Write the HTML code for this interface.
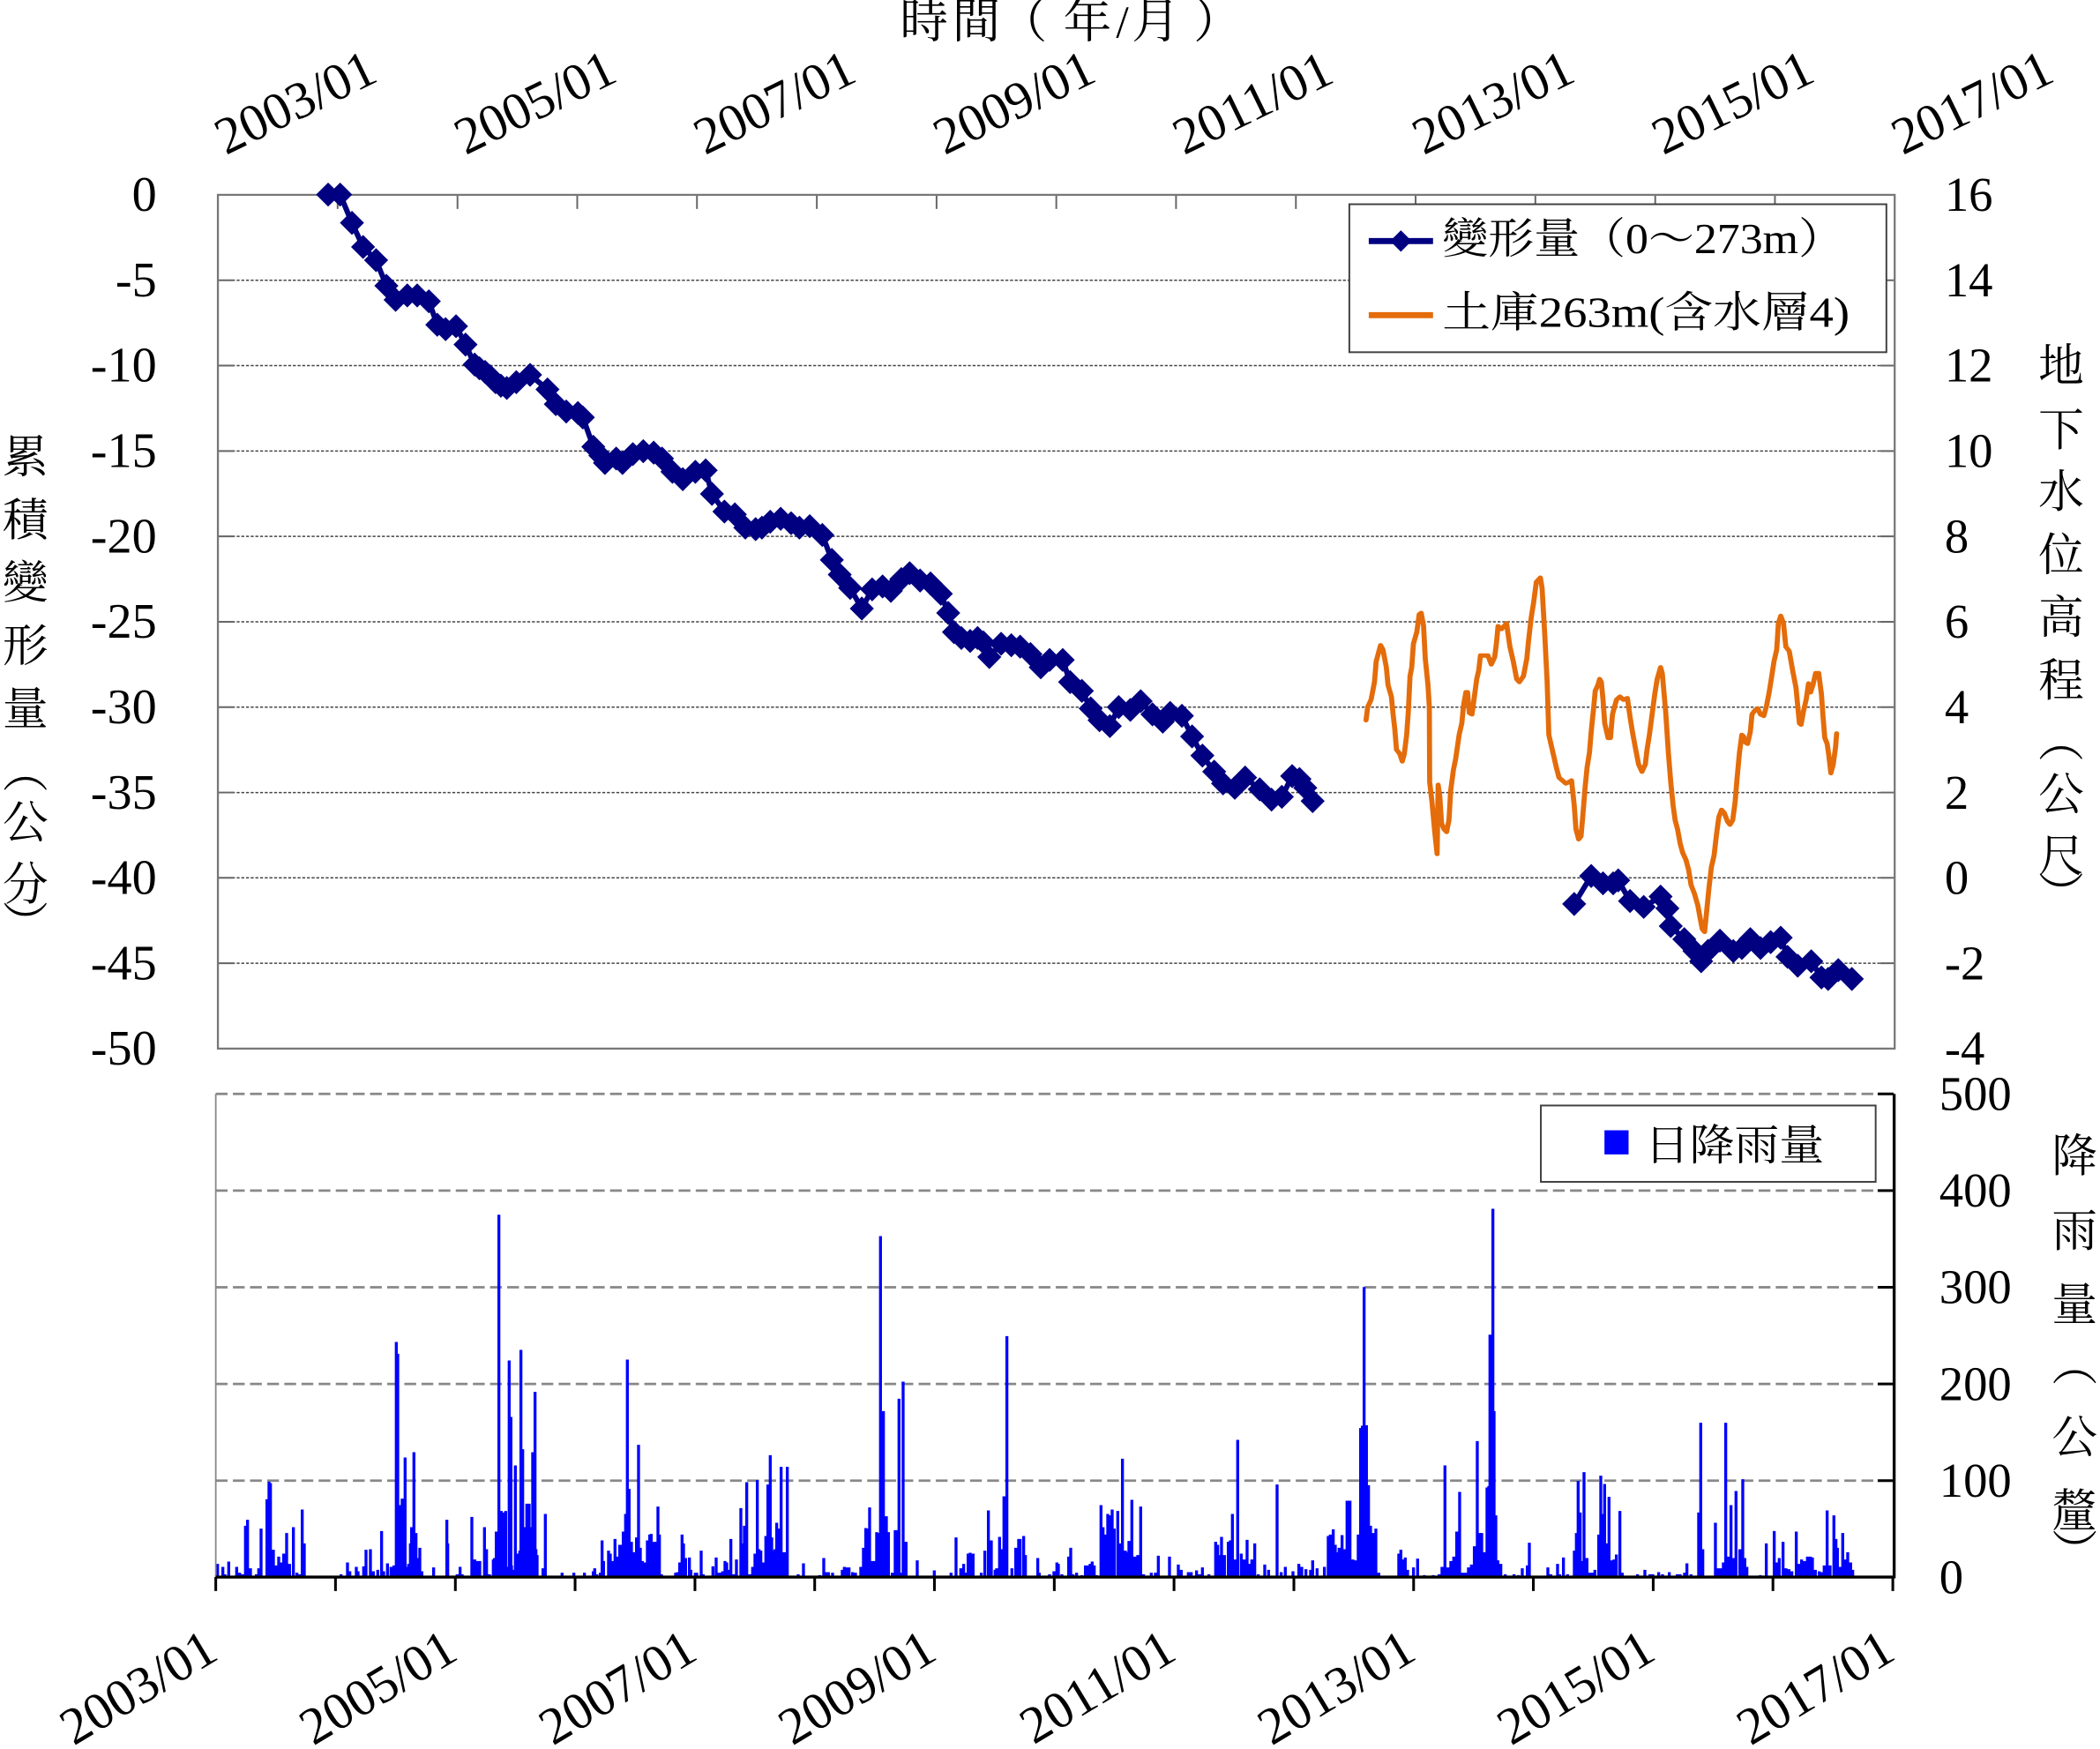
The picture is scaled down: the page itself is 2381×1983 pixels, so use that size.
<!DOCTYPE html>
<html><head><meta charset="utf-8"><style>
html,body{margin:0;padding:0;background:#fff;}
svg{display:block;}
text{font-family:"Liberation Serif","Noto Serif CJK SC","Noto Serif CJK TC","Noto Serif CJK JP","Noto Serif CJK","Noto Sans CJK TC",serif;fill:#000;}
</style></head><body>
<svg width="2381" height="1983" viewBox="0 0 1568 1306" preserveAspectRatio="none" xmlns="http://www.w3.org/2000/svg">
<defs>
<marker id="dm" markerWidth="20" markerHeight="20" refX="10" refY="10" markerUnits="userSpaceOnUse" overflow="visible"><path d="M10 1 L19 10 L10 19 L1 10Z" fill="#000080"/></marker>
</defs>
<rect width="1568" height="1306" fill="#fff"/>

<!-- title -->
<g font-size="36" text-anchor="middle">
<text x="690" y="28">時</text><text x="729" y="28">間</text><text x="764" y="28">（</text><text x="812" y="28">年</text><text x="838" y="28" font-size="34">/</text><text x="863" y="28">月</text><text x="909" y="28">）</text>
</g>

<!-- top x labels -->
<g font-size="39">
<text x="168.7" y="116" transform="rotate(-26 168.7 116)">2003/01</text>
<text x="347.6" y="116" transform="rotate(-26 347.6 116)">2005/01</text>
<text x="526.4" y="116" transform="rotate(-26 526.4 116)">2007/01</text>
<text x="705.3" y="116" transform="rotate(-26 705.3 116)">2009/01</text>
<text x="884.1" y="116" transform="rotate(-26 884.1 116)">2011/01</text>
<text x="1063" y="116" transform="rotate(-26 1063 116)">2013/01</text>
<text x="1241.9" y="116" transform="rotate(-26 1241.9 116)">2015/01</text>
<text x="1420.7" y="116" transform="rotate(-26 1420.7 116)">2017/01</text>
</g>

<!-- top chart gridlines -->
<g stroke="#444" stroke-width="1" stroke-dasharray="2.2 1.3">
<line x1="162.7" x2="1414.7" y1="209.3" y2="209.3"/>
<line x1="162.7" x2="1414.7" y1="273" y2="273"/>
<line x1="162.7" x2="1414.7" y1="336.8" y2="336.8"/>
<line x1="162.7" x2="1414.7" y1="400.5" y2="400.5"/>
<line x1="162.7" x2="1414.7" y1="464.3" y2="464.3"/>
<line x1="162.7" x2="1414.7" y1="528" y2="528"/>
<line x1="162.7" x2="1414.7" y1="591.8" y2="591.8"/>
<line x1="162.7" x2="1414.7" y1="655.5" y2="655.5"/>
<line x1="162.7" x2="1414.7" y1="719.3" y2="719.3"/>
</g>
<!-- top chart ticks -->
<g stroke="#666" stroke-width="1.3">
<path d="M252.1 145.5V156M341.6 145.5V156M431 145.5V156M520.4 145.5V156M609.9 145.5V156M699.3 145.5V156M788.7 145.5V156M878.1 145.5V156M967.6 145.5V156M1057 145.5V156M1146.4 145.5V156M1235.9 145.5V156M1325.3 145.5V156"/>
<path d="M162.7 209.3H175M162.7 273H175M162.7 336.8H175M162.7 400.5H175M162.7 464.3H175M162.7 528H175M162.7 591.8H175M162.7 655.5H175M162.7 719.3H175"/>
<path d="M1404 209.3H1414.7M1404 273H1414.7M1404 336.8H1414.7M1404 400.5H1414.7M1404 464.3H1414.7M1404 528H1414.7M1404 591.8H1414.7M1404 655.5H1414.7M1404 719.3H1414.7"/>
</g>
<rect x="162.7" y="145.5" width="1252" height="637.5" fill="none" stroke="#777" stroke-width="1.5"/>

<!-- left labels -->
<g font-size="37" text-anchor="end">
<text x="117" y="157.5">0</text><text x="117" y="221.3">-5</text><text x="117" y="285">-10</text><text x="117" y="348.8">-15</text><text x="117" y="412.5">-20</text><text x="117" y="476.3">-25</text><text x="117" y="540">-30</text><text x="117" y="603.8">-35</text><text x="117" y="667.5">-40</text><text x="117" y="731.3">-45</text><text x="117" y="795">-50</text>
</g>
<!-- right labels top -->
<g font-size="36">
<text x="1452" y="157.5">16</text><text x="1452" y="221.3">14</text><text x="1452" y="285">12</text><text x="1452" y="348.8">10</text><text x="1452" y="412.5">8</text><text x="1452" y="476.3">6</text><text x="1452" y="540">4</text><text x="1452" y="603.8">2</text><text x="1452" y="667.5">0</text><text x="1452" y="731.3">-2</text><text x="1452" y="795">-4</text>
</g>

<!-- left axis title -->
<g font-size="34" text-anchor="middle">
<text x="19" y="353">累</text><text x="19" y="400">積</text><text x="19" y="447">變</text><text x="19" y="494">形</text><text x="19" y="541">量</text>
<text x="19" y="588" transform="rotate(90 19 575)">（</text>
<text x="19" y="626">公</text><text x="19" y="672">分</text>
<text x="19" y="702" transform="rotate(90 19 689)">）</text>
</g>
<!-- right axis title top -->
<g font-size="34" text-anchor="middle">
<text x="1539" y="285">地</text><text x="1539" y="333">下</text><text x="1539" y="379">水</text><text x="1539" y="426">位</text><text x="1539" y="473">高</text><text x="1539" y="520">程</text>
<text x="1539" y="565" transform="rotate(90 1539 552)">（</text>
<text x="1539" y="605">公</text><text x="1539" y="651">尺</text>
<text x="1539" y="680" transform="rotate(90 1539 667)">）</text>
</g>

<!-- orange groundwater series -->
<g transform="translate(1001,408.3) scale(0.2528,0.2195)">
<polyline fill="none" stroke="#E46C0A" stroke-width="15" stroke-linejoin="round" stroke-linecap="round" points="75,590 80,545 90,520 100,460 105,390 118,335 125,350 135,410 140,470 150,510 155,570 160,620 165,690 175,705 182,730 188,705 195,640 200,560 205,440 210,410 215,330 225,290 232,230 238,225 245,270 250,380 258,470 262,545 263,800 270,870 278,970 285,1045 288,810 293,850 298,940 305,960 313,970 320,930 325,830 333,760 340,720 350,640 358,600 363,540 370,495 375,495 380,565 388,570 395,510 402,450 408,420 413,370 425,370 435,370 445,400 455,375 460,330 465,270 475,280 483,270 490,260 500,340 510,390 520,450 528,460 540,440 550,380 555,320 563,240 570,190 578,120 590,105 595,140 603,300 610,460 615,640 625,690 637,750 645,785 655,795 665,805 675,800 682,795 690,880 695,960 703,995 710,985 715,920 722,820 728,750 735,700 740,630 748,540 752,490 760,470 765,450 770,460 775,520 780,600 790,650 797,650 803,570 810,540 815,520 825,510 835,520 847,515 855,580 862,630 870,680 880,740 890,765 900,740 905,690 912,640 920,570 928,500 935,450 945,410 950,430 960,560 968,700 975,800 982,880 988,930 995,960 1003,1010 1010,1040 1020,1065 1028,1100 1035,1150 1045,1180 1055,1220 1063,1270 1068,1300 1075,1310 1082,1230 1088,1160 1095,1090 1103,1050 1110,980 1117,920 1125,895 1133,905 1143,935 1150,945 1158,930 1165,870 1170,800 1178,700 1185,640 1190,645 1195,665 1202,670 1210,630 1215,570 1225,555 1232,550 1240,570 1250,575 1258,540 1265,500 1272,450 1280,390 1288,350 1293,260 1300,235 1308,260 1315,340 1325,355 1335,420 1345,480 1350,540 1355,600 1360,605 1367,560 1375,520 1382,465 1388,495 1395,470 1403,430 1412,430 1420,500 1425,580 1430,650 1437,670 1442,710 1448,770 1455,740 1462,680 1465,635"/>
</g>

<!-- navy deformation series -->
<g fill="none" stroke="#000080" stroke-width="4" stroke-linejoin="round" marker-start="url(#dm)" marker-mid="url(#dm)" marker-end="url(#dm)">
<polyline points="245,145.3 254,145.3 262.8,166.4 271.1,184.4 280.8,194.3 288.5,213.4 295.4,223.9 304.1,220.6 311.5,220.6 320.2,225 326.5,242.5 332.7,245.8 340.5,243.6 347.6,257.3 354.4,272.2 358,275 362.2,277.7 366,281 370,285.4 374,288 378.4,289.7 385.5,285.4 395.8,279.9 408.8,290.8 415,301.8 422.8,307.3 431.5,308.4 435.2,311.7 443,333.6 448.3,340.2 451.7,345.7 460.1,342.4 464.8,345.7 472.5,339.1 480.3,336.9 488.1,338 494.3,342.4 502.1,352.3 509.8,357.8 519.2,352.3 526.9,351.2 531.6,368.8 540.9,382 548.7,384.1 556.5,394 564.2,395.1 568.9,394 575.1,389.6 582.9,387.4 590.7,390.7 596.9,394 604.6,392.9 614,399.5 621.1,418.1 627,429.1 634.8,439 643.5,454.4 651.2,440.1 659,437.9 665.2,441.2 673,432.4 679.2,428 687,433.5 694.8,435.7 702.5,443.4 708,457.7 712.3,472 717.8,476.4 724.4,478.6 729.9,476.4 734.3,479.7 738.7,490.6 747.5,480.7 755.1,481.8 761.7,482.9 769.4,488.4 777.1,498.3 783.7,492.8 793.5,492.8 799,509.3 807.8,515.9 814.4,529 821,537.8 828.7,542.2 835.3,528 844,530.1 851.7,523.6 860.5,533.4 868.2,538.9 873.7,532.3 882.5,534.5 890.1,549.9 897.8,564.2 906.6,576.2 913.2,585 922,588.3 929.7,580.6 940.6,589.4 949.4,597.1 957.1,595 964.8,579.5 970.3,581.7 974.6,588.3 980.1,598.2"/>
<polyline points="1175.4,675 1188.1,654.1 1196.9,659.6 1204.5,659.6 1208.3,657.4 1217.1,672.8 1227.3,677.2 1239.9,669.5 1245,678.3 1247.5,691.5 1257.6,701.3 1265.2,710.1 1270.2,717.8 1275.3,710.1 1284.2,702.4 1294.2,710.2 1300.6,707.9 1306.9,701.3 1314.5,707.9 1322.1,703.5 1329.6,700.2 1334.7,714.5 1342.3,721.1 1352.4,717.8 1360,729.9 1365,731 1372.6,724.4 1382.7,731"/>
</g>

<!-- top legend -->
<rect x="1007.5" y="152.5" width="401" height="110.5" fill="#fff" stroke="#404040" stroke-width="1.3"/>
<line x1="1022" y1="180" x2="1070" y2="180" stroke="#000080" stroke-width="4.5"/>
<path d="M1046 172 L1054 180 L1046 188 L1038 180Z" fill="#000080"/>
<text x="1077" y="189" font-size="32" textLength="300" lengthAdjust="spacingAndGlyphs">變形量（0～273m）</text>
<line x1="1022" y1="235.3" x2="1070" y2="235.3" stroke="#E46C0A" stroke-width="4.5"/>
<text x="1077" y="244" font-size="32" textLength="304" lengthAdjust="spacingAndGlyphs">土庫263m(含水層4)</text>

<!-- ===== bottom chart ===== -->
<g stroke="#888" stroke-width="1.8" stroke-dasharray="8.8 4">
<line x1="161.1" x2="1413.3" y1="816.8" y2="816.8"/>
<line x1="161.1" x2="1413.3" y1="889" y2="889"/>
<line x1="161.1" x2="1413.3" y1="961.2" y2="961.2"/>
<line x1="161.1" x2="1413.3" y1="1033.4" y2="1033.4"/>
<line x1="161.1" x2="1413.3" y1="1105.6" y2="1105.6"/>
</g>

<!-- rain bars -->
<g fill="none" stroke="#0000FF" stroke-width="10">
<path transform="translate(158.05,889.03) scale(0.2195)" d="M20 1315V1270M38 1315V1280M45 1315V1305M58 1315V1262M85 1315V1280M95 1315V1300M105 1315V1305M115 1315V1140M122 1315V1120M132 1315V1285M152 1315V1305M160 1315V1285M168 1315V1150M188 1315V1050M195 1315V990M200 1315V995M210 1315V1222M218 1315V1275M228 1315V1245M235 1315V1265M245 1315V1235M255 1315V1165M265 1315V1270M278 1315V1145M290 1315V1300M300 1315V1305M308 1315V1085M315 1315V1200M440 1315V1305M462 1315V1265M470 1315V1295M492 1315V1280M498 1315V1295M517 1315V1278M525 1315V1222M540 1315V1220M550 1315V1295M565 1315V1290M578 1315V1158M585 1315V1295M598 1315V1268M610 1315V1280M620 1315V1275M624 1315V1280M628 1315V515M633 1315V555M636 1315V1100M640 1315V1070M644 1315V1200M648 1315V1048M652 1315V1250M658 1315V908M665 1315V1280M670 1315V1270M676 1315V1200M680 1315V1145M684 1315V1150M688 1315V890M695 1315V1165M700 1315V1250M708 1315V1215M715 1315V1295M755 1315V1282M800 1315V1120M803 1315V1200M835 1315V1305M845 1315V1280M852 1315V1305M885 1315V1110M895 1315V1255M905 1315V1260M912 1315V1260M928 1315V1145M935 1315V1220M945 1315V1305M958 1315V1255M962 1315V1250M968 1315V1160M972 1315V1220M977 1315V82M985 1315V1090M990 1315V1095M995 1315V1270M1000 1315V1090M1005 1315V1280M1012 1315V578M1018 1315V770M1020 1315V1275M1025 1315V1290M1033 1315V935M1038 1315V1240M1040 1315V1235M1048 1315V1225M1052 1315V542M1058 1315V880M1063 1315V1145M1068 1315V1200M1072 1315V1065M1076 1315V1150M1080 1315V1065M1085 1315V1145M1092 1315V890M1096 1315V1200M1100 1315V685M1103 1315V1220M1107 1315V1240M1127 1315V1285M1135 1315V1100M1165 1315V1310M1192 1315V1300M1232 1315V1300M1255 1315V1310M1268 1315V1300M1298 1315V1295M1303 1315V1285M1310 1315V1305M1322 1315V1300M1328 1315V1190M1333 1315V1260M1350 1315V1225M1356 1315V1235M1365 1315V1260M1372 1315V1185M1380 1315V1245M1388 1315V1205M1395 1315V1205M1400 1315V1160M1408 1315V1100M1414 1315V575M1420 1315V1015M1428 1315V1195M1436 1315V1230"/>
<path transform="translate(474.15,889.03) scale(0.2195)" d="M5 1315V1180M12 1315V865M18 1315V1215M25 1315V1260M32 1315V1265M42 1315V1190M50 1315V1170M55 1315V1168M62 1315V1195M68 1315V1195M78 1315V1075M83 1315V1170M90 1315V1305M138 1315V1300M145 1315V1298M152 1315V1265M160 1315V1170M165 1315V1200M172 1315V1250M185 1315V1248M190 1315V1290M205 1315V1300M210 1315V1300M225 1315V1225M232 1315V1305M240 1315V1310M250 1315V1310M265 1315V1278M276 1315V1248M282 1315V1300M290 1315V1300M298 1315V1295M306 1315V1260M312 1315V1265M318 1315V1290M326 1315V1185M335 1315V1305M345 1315V1255M360 1315V1080M368 1315V1200M372 1315V1140M380 1315V992M390 1315V1305M400 1315V1280M408 1315V1235M416 1315V985M422 1315V1220M428 1315V1225M436 1315V1265M445 1315V1175M452 1315V1000M460 1315V900M465 1315V1180M470 1315V1225M476 1315V1220M482 1315V1130M490 1315V1150M497 1315V940M503 1315V1230M508 1315V1230M518 1315V940M525 1315V1310M555 1315V1305M573 1315V1268M605 1315V1310M628 1315V1308M642 1315V1250M650 1315V1298M658 1315V1298M672 1315V1300M690 1315V1310M705 1315V1290M712 1315V1280M720 1315V1282M728 1315V1282M740 1315V1298M750 1315V1300M768 1315V1280M777 1315V1215M785 1315V1148M792 1315V1150M798 1315V1078M808 1315V1260M815 1315V1260M822 1315V1162M828 1315V1165M835 1315V155M845 1315V750M850 1315V1160M855 1315V1108M862 1315V1162M875 1315V1300M885 1315V1155M890 1315V1155M898 1315V708M905 1315V1300M912 1315V650M922 1315V1195M960 1315V1258M968 1315V1310M1018 1315V1292M1075 1315V1300M1092 1315V1180M1108 1315V1285M1118 1315V1270M1128 1315V1300M1133 1315V1235M1140 1315V1232M1150 1315V1235M1178 1315V1300M1190 1315V1225M1202 1315V1088M1212 1315V1190M1225 1315V1290M1230 1315V1285M1240 1315V1178M1245 1315V1220M1255 1315V1040M1265 1315V495M1282 1315V1285M1295 1315V1215M1305 1315V1185M1310 1315V1185M1322 1315V1175M1328 1315V1240M1370 1315V1250M1375 1315V1300M1410 1315V1305M1425 1315V1295M1435 1315V1265"/>
<path transform="translate(790.25,889.03) scale(0.2195)" d="M0 1315V1270M12 1315V1305M35 1315V1245M42 1315V1215M50 1315V1305M62 1315V1300M80 1315V1308M92 1315V1275M100 1315V1275M108 1315V1270M115 1315V1262M122 1315V1275M130 1315V1308M145 1315V1070M152 1315V1145M158 1315V1200M162 1315V1170M168 1315V1100M175 1315V1105M183 1315V1085M190 1315V1150M202 1315V1090M210 1315V1200M218 1315V912M228 1315V1225M234 1315V1230M240 1315V1192M250 1315V1052M260 1315V1245M270 1315V1240M280 1315V1075M290 1315V1305M316 1315V1300M330 1315V1300M340 1315V1242M378 1315V1245M400 1315V1310M408 1315V1272M418 1315V1290M430 1315V1310M442 1315V1298M452 1315V1298M470 1315V1292M480 1315V1305M490 1315V1282M512 1315V1305M520 1315V1310M535 1315V1195M542 1315V1205M548 1315V1240M555 1315V1178M565 1315V1240M578 1315V1195M585 1315V1190M592 1315V1100M602 1315V1255M610 1315V848M622 1315V1235M632 1315V1255M642 1315V1188M650 1315V1270M658 1315V1255M668 1315V1200M680 1315V1305M702 1315V1272M715 1315V1290M744 1315V1000M758 1315V1298M772 1315V1280M798 1315V1295M818 1315V1270M828 1315V1280M842 1315V1288M858 1315V1290M865 1315V1258M880 1315V1285M890 1315V1310M905 1315V1280M918 1315V1175M925 1315V1170M935 1315V1152M942 1315V1205M948 1315V1230M955 1315V1215M965 1315V1172M975 1315V1220M982 1315V1055M992 1315V1055M1002 1315V1255M1012 1315V1258M1020 1315V1170M1028 1315V808M1034 1315V800M1040 1315V328M1048 1315V798M1055 1315V1002M1062 1315V1140M1072 1315V1165M1080 1315V1150M1090 1315V1300M1105 1315V1310M1158 1315V1235M1165 1315V1222M1172 1315V1255M1180 1315V1248M1188 1315V1290M1208 1315V1282M1222 1315V1252M1245 1315V1308M1275 1315V1308M1295 1315V1305M1305 1315V1280M1315 1315V935M1325 1315V1282M1335 1315V1260M1345 1315V1245M1355 1315V1160M1365 1315V1025M1375 1315V1300M1385 1315V1300M1395 1315V1282M1405 1315V1272M1415 1315V1210M1425 1315V852M1435 1315V1165"/>
<path transform="translate(1106.35,889.03) scale(0.2195)" d="M0 1315V1165M8 1315V1230M18 1315V1010M24 1315V1005M28 1315V490M33 1315V490M38 1315V62M42 1315V750M48 1315V1105M55 1315V1258M65 1315V1270M80 1315V1305M110 1315V1305M125 1315V1308M138 1315V1285M155 1315V1275M162 1315V1198M175 1315V1310M215 1315V1310M225 1315V1282M235 1315V1305M245 1315V1310M258 1315V1270M265 1315V1305M278 1315V1248M292 1315V1305M305 1315V1310M315 1315V1225M322 1315V1165M328 1315V988M335 1315V1095M342 1315V1260M348 1315V958M358 1315V1250M368 1315V1300M375 1315V1300M385 1315V1290M398 1315V1170M405 1315V970M412 1315V1100M418 1315V998M425 1315V1200M433 1315V1042M442 1315V1258M450 1315V1255M458 1315V1238M470 1315V1090M478 1315V1300M530 1315V1305M555 1315V1290M572 1315V1305M582 1315V1305M602 1315V1298M615 1315V1305M638 1315V1298M665 1315V1305M675 1315V1305M690 1315V1300M698 1315V1268M712 1315V1305M725 1315V1310M738 1315V1095M745 1315V790M752 1315V1220M795 1315V1130M805 1315V1285M815 1315V1285M822 1315V1265M830 1315V790M838 1315V1245M848 1315V1070M855 1315V1250M865 1315V1022M878 1315V1220M888 1315V982M895 1315V1250M902 1315V1280M915 1315V1310M948 1315V1308M968 1315V1200M980 1315V1310M995 1315V1158M1005 1315V1265M1012 1315V1250M1025 1315V1195M1035 1315V1285M1045 1315V1288M1055 1315V1295M1070 1315V1160M1078 1315V1270M1088 1315V1255M1098 1315V1260M1108 1315V1245M1118 1315V1245M1125 1315V1248M1135 1315V1290M1148 1315V1295M1155 1315V1298M1165 1315V1275M1175 1315V1088M1185 1315V1275M1198 1315V1105M1205 1315V1185M1210 1315V1215M1218 1315V1280M1228 1315V1165M1238 1315V1255M1245 1315V1230M1255 1315V1265M1262 1315V1290"/>
</g>

<!-- bottom axes -->
<line x1="161.1" y1="816.8" x2="161.1" y2="1177.6" stroke="#888" stroke-width="1.2"/>
<line x1="161.1" y1="1177.6" x2="1414.3" y2="1177.6" stroke="#000" stroke-width="2.2"/>
<line x1="1414.3" y1="816.8" x2="1414.3" y2="1178.6" stroke="#000" stroke-width="2.2"/>
<g stroke="#000" stroke-width="2">
<path d="M1402 816.8H1414M1402 889H1414M1402 961.2H1414M1402 1033.4H1414M1402 1105.6H1414"/>
<path d="M161.1 1177.6V1188M250.5 1177.6V1188M340 1177.6V1188M429.4 1177.6V1188M518.9 1177.6V1188M608.3 1177.6V1188M697.7 1177.6V1188M787.2 1177.6V1188M876.6 1177.6V1188M966.1 1177.6V1188M1055.5 1177.6V1188M1144.9 1177.6V1188M1234.4 1177.6V1188M1323.8 1177.6V1188M1413.3 1177.6V1188"/>
</g>

<!-- bottom right labels -->
<g font-size="36">
<text x="1448" y="829">500</text><text x="1448" y="901">400</text><text x="1448" y="973.2">300</text><text x="1448" y="1045.4">200</text><text x="1448" y="1117.6">100</text><text x="1448" y="1189.6">0</text>
</g>
<!-- rain axis title -->
<g font-size="34" text-anchor="middle">
<text x="1549" y="875">降</text><text x="1549" y="931">雨</text><text x="1549" y="986">量</text>
<text x="1549" y="1031" transform="rotate(90 1549 1018)">（</text>
<text x="1549" y="1085">公</text><text x="1549" y="1140">釐</text>
<text x="1549" y="1171" transform="rotate(90 1549 1158)">）</text>
</g>

<!-- rain legend -->
<rect x="1150.5" y="825.5" width="250" height="57" fill="#fff" stroke="#404040" stroke-width="1.3"/>
<rect x="1198" y="844" width="18" height="18" fill="#0000FF"/>
<text x="1228" y="866" font-size="32" textLength="134" lengthAdjust="spacingAndGlyphs">日降雨量</text>

<!-- bottom x labels -->
<g font-size="39" text-anchor="end">
<text x="164.6" y="1238" transform="rotate(-31 164.6 1238)">2003/01</text>
<text x="343.5" y="1238" transform="rotate(-31 343.5 1238)">2005/01</text>
<text x="522.4" y="1238" transform="rotate(-31 522.4 1238)">2007/01</text>
<text x="701.2" y="1238" transform="rotate(-31 701.2 1238)">2009/01</text>
<text x="880.1" y="1238" transform="rotate(-31 880.1 1238)">2011/01</text>
<text x="1059" y="1238" transform="rotate(-31 1059 1238)">2013/01</text>
<text x="1237.9" y="1238" transform="rotate(-31 1237.9 1238)">2015/01</text>
<text x="1416.8" y="1238" transform="rotate(-31 1416.8 1238)">2017/01</text>
</g>
</svg>
</body></html>
